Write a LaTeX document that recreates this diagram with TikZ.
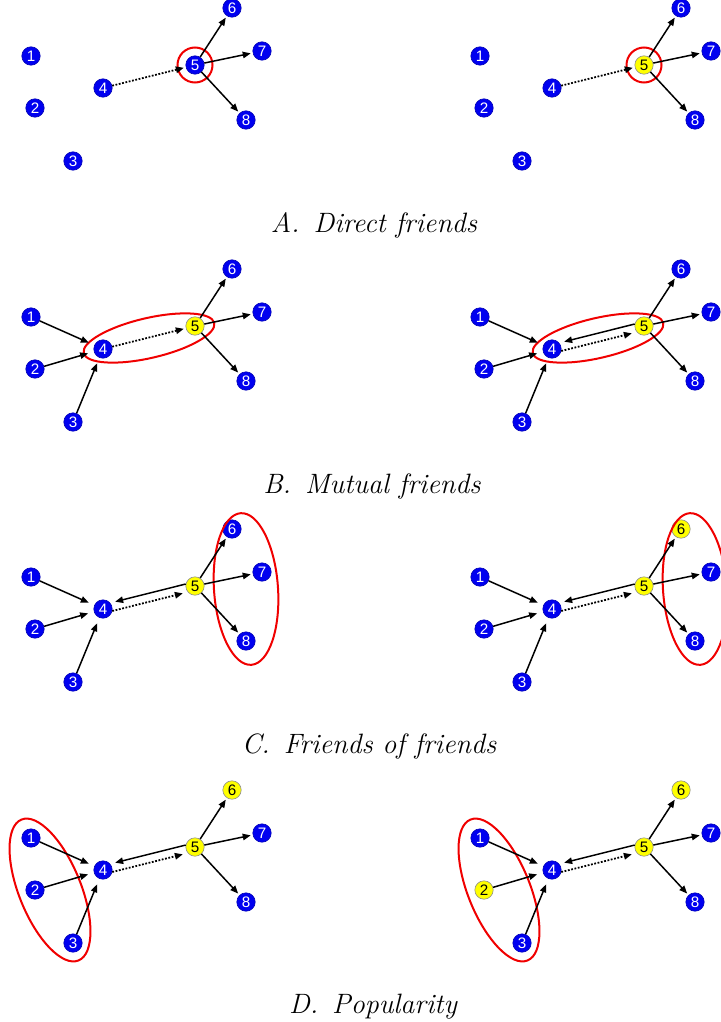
\documentclass[tikz,border=0pt]{standalone}
\usepackage{fontspec}
\usepackage{tikz}
\usetikzlibrary{arrows.meta}
\newfontfamily\netfont{Liberation Sans}
\definecolor{netblue}{HTML}{0000F0}
\definecolor{netrim}{HTML}{0000B4}
\definecolor{pickyellow}{HTML}{FFFF00}
\definecolor{pickrim}{HTML}{8C8C8C}
\definecolor{ringred}{HTML}{F00000}
\tikzset{
  person/.style={circle,fill=netblue,draw=netrim,line width=0.3pt,
                 minimum size=9.2pt,inner sep=0pt,text=white,
                 font=\netfont\fontsize{7.6}{8}\selectfont},
  picked/.style={fill=pickyellow,draw=pickrim,text=black},
  tone 1/.style={},tone 2/.style={},tone 3/.style={},tone 4/.style={},
  tone 5/.style={},tone 6/.style={},tone 7/.style={},tone 8/.style={},
  link/.style={-{Triangle[length=4pt,width=3.2pt]},line width=0.75pt,shorten >=1pt},
  hint/.style={link,line width=0.9pt,dash pattern=on 0.9pt off 0.8pt},
  ring/.style={draw=ringred,line width=1pt},
  caption/.style={anchor=base,font=\fontsize{14}{16}\selectfont\itshape}
}
% the same eight people in every panel
\newcommand{\netnodes}{%
  \foreach \i/\x/\y in {1/31/56,2/35/108,3/73/161,4/103/88,
                        5/195/65,6/232/8,7/262/51,8/246/120}
    \node[person,tone \i] (n\i) at (\x,\y) {\i};}
\newcommand{\outlinks}{%
  \foreach \j in {6,7,8} \draw[link] (n5) -- (n\j);}
\newcommand{\inlinks}{%
  \foreach \j in {1,2,3} \draw[link,shorten >=3pt] (n\j) -- (n4);}
\newcommand{\backlinks}{%
  \draw[link,shorten >=2.5pt] (n5.168) -- (n4.40);
  \draw[hint,shorten >=2.5pt] (n4.-12) -- (n5.220);}

\begin{document}
\begin{tikzpicture}[x=0.5pt,y=-0.5pt]
  \useasboundingbox (0,0) rectangle (720,1022);

  % A
  \begin{scope}[name prefix=al-]
    \netnodes
    \draw[ring] (n5) circle[radius=17.5];
    \draw[hint] (n4) -- (n5);
    \outlinks
  \end{scope}
  \begin{scope}[shift={(449,0)},name prefix=ar-,tone 5/.style=picked]
    \netnodes
    \draw[ring] (n5) circle[radius=17.5];
    \draw[hint] (n4) -- (n5);
    \outlinks
  \end{scope}
  \node[caption] (capA) at (374,232) {A.\enspace Direct friends};

  % B
  \begin{scope}[shift={(0,261)},name prefix=bl-,tone 5/.style=picked]
    \netnodes
    \draw[ring,rotate around={13:(149,77)}] (149,77) ellipse[x radius=67,y radius=20];
    \draw[hint] (n4) -- (n5);
    \inlinks
    \outlinks
  \end{scope}
  \begin{scope}[shift={(449,261)},name prefix=br-,tone 5/.style=picked]
    \netnodes
    \draw[ring,rotate around={13:(149,77)}] (149,77) ellipse[x radius=67,y radius=20];
    \inlinks
    \backlinks
    \outlinks
  \end{scope}
  \node[caption] (capB) at (372,493) {B.\enspace Mutual friends};

  % C
  \begin{scope}[shift={(0,521)},name prefix=cl-,tone 5/.style=picked]
    \netnodes
    \draw[ring,rotate around={4:(246,68)}] (246,68) ellipse[x radius=32,y radius=76];
    \inlinks
    \backlinks
    \outlinks
  \end{scope}
  \begin{scope}[shift={(449,521)},name prefix=cr-,tone 5/.style=picked,tone 6/.style=picked]
    \netnodes
    \draw[ring,rotate around={4:(246,68)}] (246,68) ellipse[x radius=32,y radius=76];
    \inlinks
    \backlinks
    \outlinks
  \end{scope}
  \node[caption] (capC) at (369,753) {C.\enspace Friends of friends};

  % D
  \begin{scope}[shift={(0,782)},name prefix=dl-,tone 5/.style=picked,tone 6/.style=picked]
    \netnodes
    \draw[ring,rotate around={22:(50,108)}] (50,108) ellipse[x radius=31,y radius=76];
    \inlinks
    \backlinks
    \outlinks
  \end{scope}
  \begin{scope}[shift={(449,782)},name prefix=dr-,tone 2/.style=picked,
                tone 5/.style=picked,tone 6/.style=picked]
    \netnodes
    \draw[ring,rotate around={22:(50,108)}] (50,108) ellipse[x radius=31,y radius=76];
    \inlinks
    \backlinks
    \outlinks
  \end{scope}
  \node[caption] (capD) at (373,1013) {D.\enspace Popularity};
\end{tikzpicture}
\end{document}
